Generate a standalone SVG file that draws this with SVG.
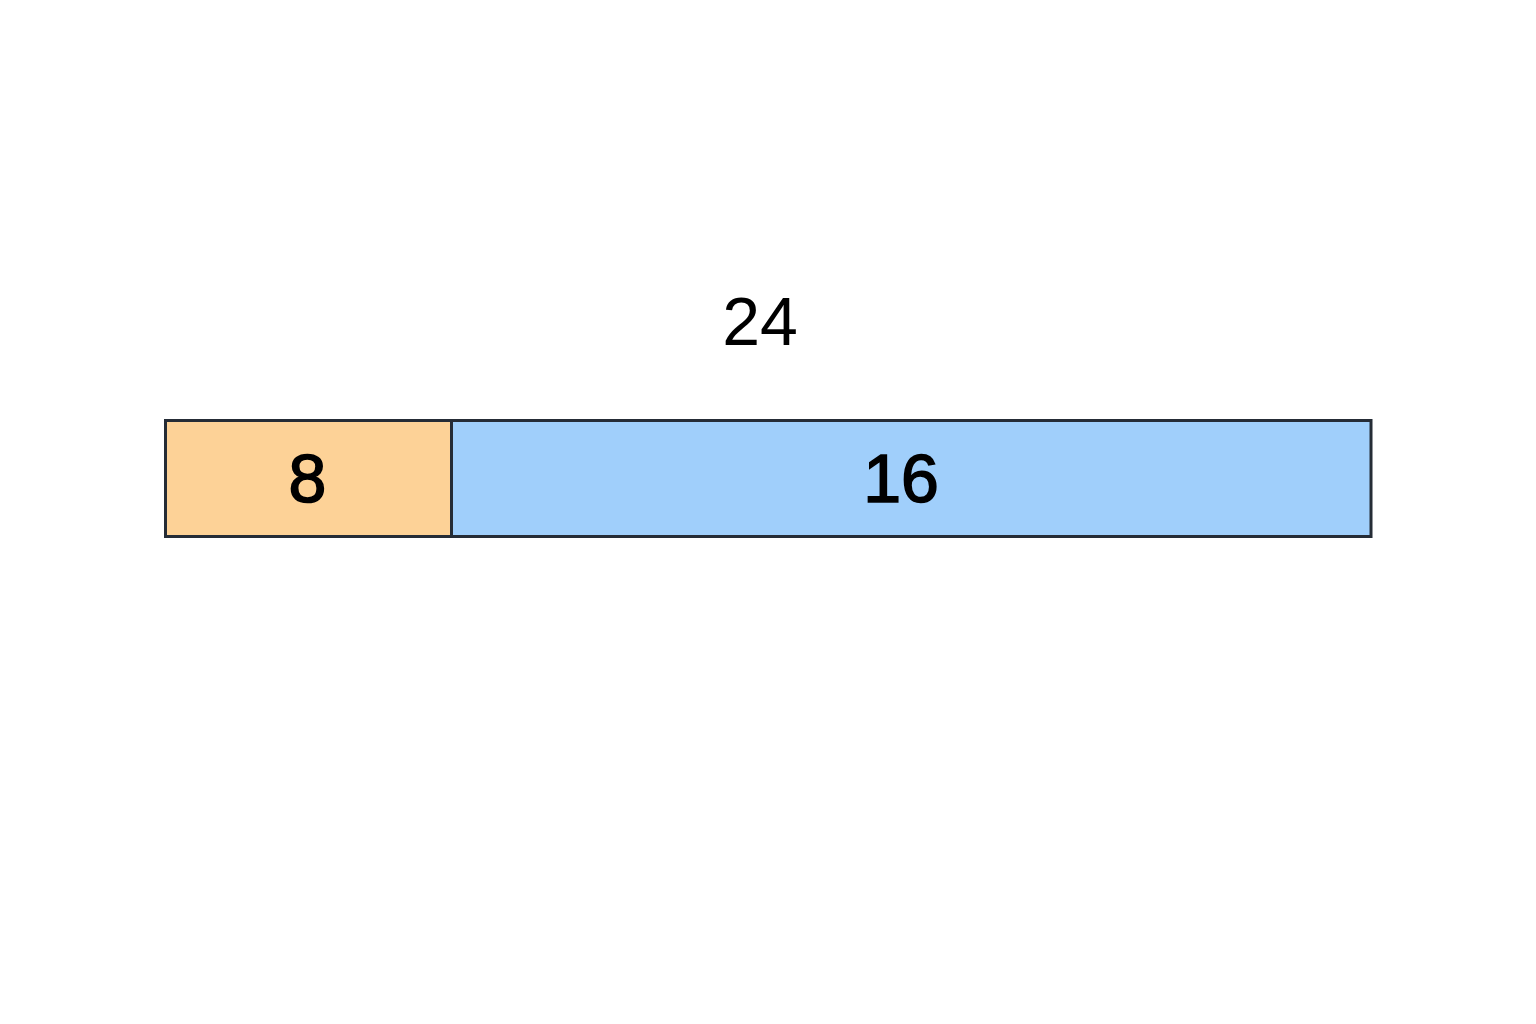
<svg xmlns="http://www.w3.org/2000/svg" width="1536" height="1024" viewBox="0 0 1536 1024">
  <style>
    .seg { stroke: #252c36; stroke-width: 3; }
    .lbl { font-family: "Liberation Sans", Arial, sans-serif; font-size: 68px; fill: #000; text-anchor: middle; }
    .in { stroke: #000; stroke-width: 1.6; }
  </style>
  <rect width="1536" height="1024" fill="#ffffff"/>
  <g id="total">
    <text class="lbl" x="760" y="345">24</text>
  </g>
  <g id="part-8">
    <rect class="seg" x="165.5" y="420.5" width="286" height="116" fill="#fdd297"/>
    <text class="lbl in" x="307.5" y="502">8</text>
  </g>
  <g id="part-16">
    <rect class="seg" x="451.5" y="420.5" width="919.5" height="116" fill="#a0cffb"/>
    <text class="lbl in" x="901" y="502">16</text>
  </g>
  <g id="connectors"></g>
</svg>
